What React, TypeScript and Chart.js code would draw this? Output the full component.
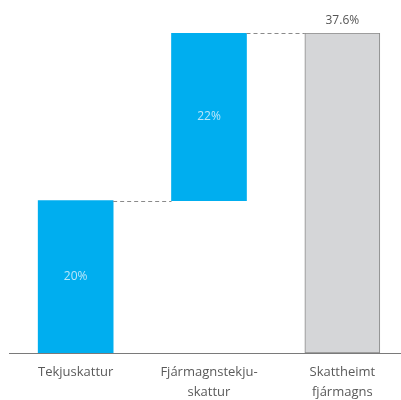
import React, { useEffect, useRef } from "react";
import { Chart, registerables } from "chart.js";

Chart.register(...registerables);

const categories: string[][] = [["Tekjuskattur"], ["Fjármagnstekju-", "skattur"], ["Skattheimt", "fjármagns"]];
const barStart = [0, 17.9, 0];
const barEnd = [17.9, 37.6, 37.6];
const valueLabels = ["20%", "22%", "37.6%"];
const barColors = ["#00aeef", "#00aeef", "#d5d6d8"];
const borderColors = ["#00aeef", "#00aeef", "#8a8a8a"];
const labelInside = [true, true, false];

const overlayPlugin = {
  id: "overlay",
  afterDatasetsDraw(chart: any) {
    const ctx = chart.ctx;
    const meta = chart.getDatasetMeta(0);
    const y = chart.scales.y;
    ctx.save();
    ctx.strokeStyle = "#8a8a8a";
    ctx.lineWidth = 1;
    ctx.setLineDash([4, 3]);
    for (let i = 0; i < meta.data.length - 1; i++) {
      const a = meta.data[i];
      const b = meta.data[i + 1];
      const level = Math.round(y.getPixelForValue(barEnd[i])) + 0.5;
      ctx.beginPath();
      ctx.moveTo(a.x + a.width / 2, level);
      ctx.lineTo(b.x - b.width / 2, level);
      ctx.stroke();
    }
    ctx.setLineDash([]);
    ctx.font = "12px 'Open Sans'";
    ctx.textAlign = "center";
    ctx.textBaseline = "middle";
    meta.data.forEach((el: any, i: number) => {
      if (labelInside[i]) {
        ctx.fillStyle = "#b9e6fa";
        const mid = (y.getPixelForValue(barStart[i]) + y.getPixelForValue(barEnd[i])) / 2;
        ctx.fillText(valueLabels[i], el.x, mid);
      } else {
        ctx.fillStyle = "#555555";
        ctx.fillText(valueLabels[i], el.x, y.getPixelForValue(barEnd[i]) - 12);
      }
    });
    ctx.restore();
  },
};

export default function App() {
  const ref = useRef<HTMLCanvasElement>(null);
  useEffect(() => {
    if (!ref.current) return;
    const chart = new Chart(ref.current, {
      type: "bar",
      data: {
        datasets: [
          {
            data: categories.map((_, i) => ({ x: i, y: [barStart[i], barEnd[i]] })) as any,
            backgroundColor: barColors,
            borderColor: borderColors,
            borderWidth: [0, 0, 1],
            borderSkipped: false,
            barThickness: 75,
          },
        ],
      },
      options: {
        animation: false,
        responsive: true,
        maintainAspectRatio: false,
        layout: { padding: { top: 33, left: 9, right: 0, bottom: -4 } },
        plugins: { legend: { display: false }, tooltip: { enabled: false } },
        scales: {
          x: {
            type: "linear",
            offset: false,
            min: -0.5,
            max: 2.44,
            grid: { display: false },
            border: { display: true, color: "#7a7a7a", width: 1 },
            afterBuildTicks: (axis: any) => {
              axis.ticks = [0, 1, 2].map((v) => ({ value: v }));
            },
            ticks: {
              autoSkip: false,
              maxRotation: 0,
              padding: 2,
              color: "#5a5a5a",
              font: { family: "'Open Sans'", size: 13, lineHeight: 1.5 },
              callback: (v: any) => categories[v] ?? "",
            },
          },
          y: {
            display: false,
            min: 0,
            max: 37.6,
          },
        },
      },
      plugins: [overlayPlugin],
    });
    return () => chart.destroy();
  }, []);
  return (
    <div style={{ position: "absolute", left: 0, top: 0, width: 401, height: 400, background: "#fff" }}>
      <canvas ref={ref} />
    </div>
  );
}
